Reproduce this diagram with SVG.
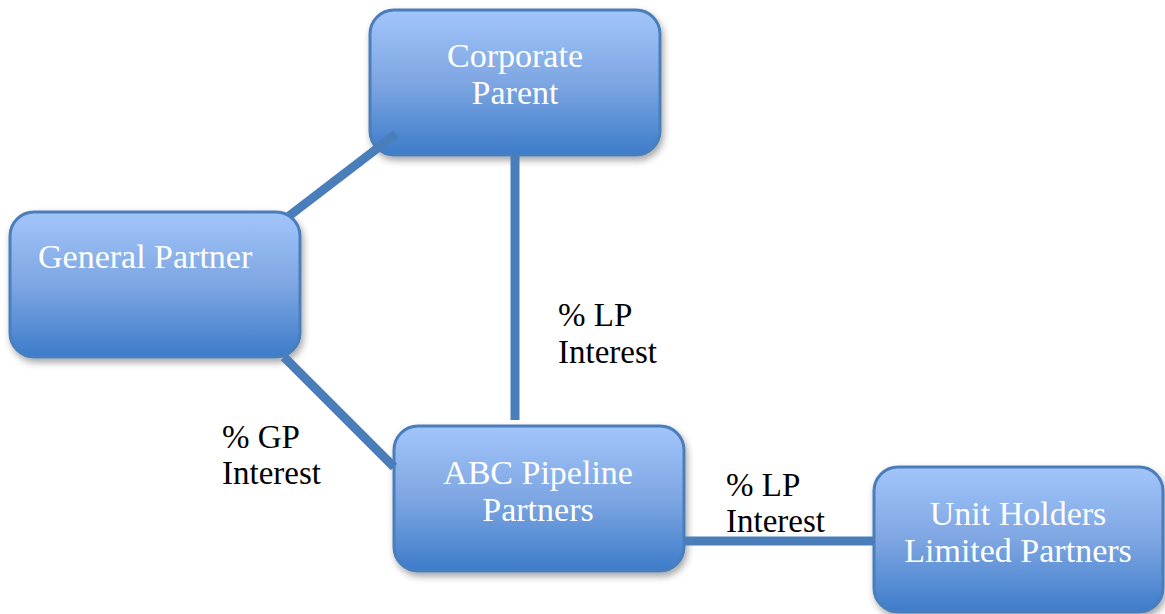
<svg xmlns="http://www.w3.org/2000/svg" width="1165" height="614" viewBox="0 0 1165 614">
  <style>
    .box { fill: url(#boxGrad); stroke: #4a7ebb; stroke-width: 3; filter: url(#shadow); }
    .btxt { font-family: "Liberation Serif", "Times New Roman", serif; font-size: 34px; fill: #ffffff; }
    .lbl { font-family: "Liberation Serif", "Times New Roman", serif; font-size: 33px; fill: #000000; }
    .conn { stroke: #4a7ebb; stroke-width: 9; fill: none; }
  </style>
  <defs>
    <linearGradient id="boxGrad" x1="0" y1="0" x2="0" y2="1">
      <stop offset="0" stop-color="#a2c5fb"/>
      <stop offset="0.5" stop-color="#7ea6e2"/>
      <stop offset="1" stop-color="#3d7cca"/>
    </linearGradient>
    <filter id="shadow" x="-10%" y="-10%" width="125%" height="130%">
      <feDropShadow dx="2" dy="4" stdDeviation="3.5" flood-color="#000000" flood-opacity="0.35"/>
    </filter>
  </defs>

  <g id="node-corporate-parent">
    <rect class="box" x="370" y="10" width="290" height="145" rx="24" ry="24"/>
    <text class="btxt" x="515" y="67" text-anchor="middle">Corporate</text>
    <text class="btxt" x="515" y="104" text-anchor="middle">Parent</text>
  </g>

  <g id="node-general-partner">
    <rect class="box" x="10" y="212" width="290" height="145" rx="24" ry="24"/>
    <text class="btxt" x="38" y="268">General Partner</text>
  </g>

  <g id="node-abc-pipeline">
    <rect class="box" x="394" y="426" width="290" height="145" rx="24" ry="24"/>
    <text class="btxt" x="538" y="484" text-anchor="middle">ABC Pipeline</text>
    <text class="btxt" x="538" y="521" text-anchor="middle">Partners</text>
  </g>

  <g id="node-unit-holders">
    <rect class="box" x="874" y="467" width="289" height="145" rx="24" ry="24"/>
    <text class="btxt" x="1018" y="525" text-anchor="middle">Unit Holders</text>
    <text class="btxt" x="1018" y="562" text-anchor="middle">Limited Partners</text>
  </g>

  <g id="connectors">
    <line class="conn" x1="396" y1="134" x2="289" y2="216"/>
    <line class="conn" x1="515" y1="156" x2="515" y2="420"/>
    <line class="conn" x1="284" y1="357" x2="394" y2="467"/>
    <line class="conn" x1="685" y1="541" x2="873" y2="541"/>
  </g>

  <g id="labels">
    <text class="lbl" x="558" y="326">% LP</text>
    <text class="lbl" x="558" y="363">Interest</text>
    <text class="lbl" x="222" y="448">% GP</text>
    <text class="lbl" x="222" y="484">Interest</text>
    <text class="lbl" x="726" y="496">% LP</text>
    <text class="lbl" x="726" y="532">Interest</text>
  </g>
</svg>
